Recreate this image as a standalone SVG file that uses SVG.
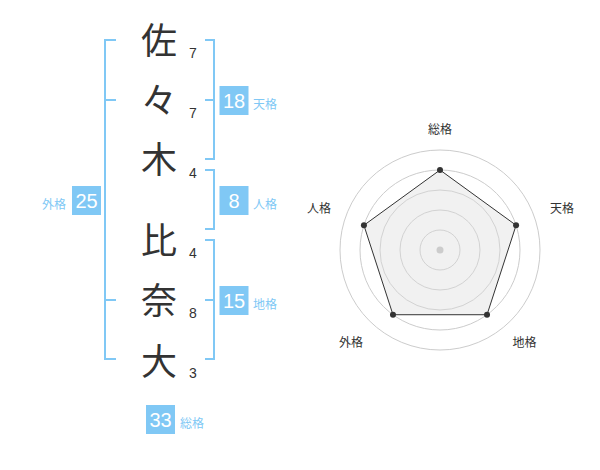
<svg xmlns="http://www.w3.org/2000/svg" width="600" height="470" viewBox="0 0 600 470">
<style>
.kanji{font-family:"Noto Sans CJK JP",sans-serif;font-size:36px;fill:#333;text-anchor:middle}
.num{font-family:"Liberation Sans",Arial,sans-serif;font-size:14px;fill:#333}
.br{fill:none;stroke:#80c8f5;stroke-width:2}
.box{fill:#80c8f5}
.bnum{font-family:"Liberation Sans",Arial,sans-serif;font-size:20px;fill:#fff;text-anchor:middle}
.lbl{font-family:"Noto Sans CJK JP",sans-serif;font-size:12px;fill:#80c8f5}
.ring{fill:none;stroke:#ccc;stroke-width:1}
.axis{font-family:"Noto Sans CJK JP",sans-serif;font-size:12px;fill:#333;text-anchor:middle}
.dot{fill:#333}
</style>
<rect width="600" height="470" fill="#fff"/>
<g id="connectors">
<path class="br" d="M116,40 H105 V359 H116 M105,100 H116 M105,300 H116"/>
<path class="br" d="M205,40 H214 V159 H205 M214,100 H205"/>
<path class="br" d="M205,170 H214 V229 H205"/>
<path class="br" d="M205,240 H214 V359 H205 M214,300 H205"/>
</g>
<g id="name">
<text class="kanji" x="159" y="54">佐</text>
<text class="kanji" x="159" y="114">々</text>
<text class="kanji" x="159" y="173">木</text>
<text class="kanji" x="159" y="254">比</text>
<text class="kanji" x="159" y="314">奈</text>
<text class="kanji" x="159" y="375">大</text>
<text class="num" x="189" y="58">7</text>
<text class="num" x="189" y="118">7</text>
<text class="num" x="189" y="178">4</text>
<text class="num" x="189" y="258">4</text>
<text class="num" x="189" y="318">8</text>
<text class="num" x="189" y="378">3</text>
</g>
<g id="tenkaku">
<rect class="box" x="219.5" y="86" width="29" height="29"/>
<text class="bnum" x="234" y="108">18</text>
<text class="lbl" x="253" y="109">天格</text>
</g>
<g id="jinkaku">
<rect class="box" x="219.5" y="186" width="29" height="29"/>
<text class="bnum" x="234" y="208">8</text>
<text class="lbl" x="253" y="209">人格</text>
</g>
<g id="chikaku">
<rect class="box" x="219.5" y="286" width="29" height="29"/>
<text class="bnum" x="234" y="308">15</text>
<text class="lbl" x="253" y="309">地格</text>
</g>
<g id="gaikaku">
<rect class="box" x="72" y="186" width="29" height="29"/>
<text class="bnum" x="86.5" y="208">25</text>
<text class="lbl" x="66" y="209" text-anchor="end">外格</text>
</g>
<g id="soukaku">
<rect class="box" x="146" y="405" width="29" height="29"/>
<text class="bnum" x="160.5" y="427">33</text>
<text class="lbl" x="180" y="428">総格</text>
</g>
<g id="radar">
<circle class="ring" cx="440" cy="250" r="20"/>
<circle class="ring" cx="440" cy="250" r="40"/>
<circle class="ring" cx="440" cy="250" r="60"/>
<circle class="ring" cx="440" cy="250" r="80"/>
<circle class="ring" cx="440" cy="250" r="100"/>
<polygon points="440,170 516.08,225.28 487.02,314.72 392.98,314.72 363.92,225.28" fill="#ddd" fill-opacity="0.4" stroke="#333" stroke-width="1"/>
<circle cx="440" cy="250" r="3.5" fill="#ccc"/>
<circle class="dot" cx="440" cy="170" r="3"/>
<circle class="dot" cx="516.08" cy="225.28" r="3"/>
<circle class="dot" cx="487.02" cy="314.72" r="3"/>
<circle class="dot" cx="392.98" cy="314.72" r="3"/>
<circle class="dot" cx="363.92" cy="225.28" r="3"/>
<text class="axis" x="440" y="134">総格</text>
<text class="axis" x="562" y="213">天格</text>
<text class="axis" x="524.5" y="347">地格</text>
<text class="axis" x="351" y="347">外格</text>
<text class="axis" x="319" y="213">人格</text>
</g>
</svg>
